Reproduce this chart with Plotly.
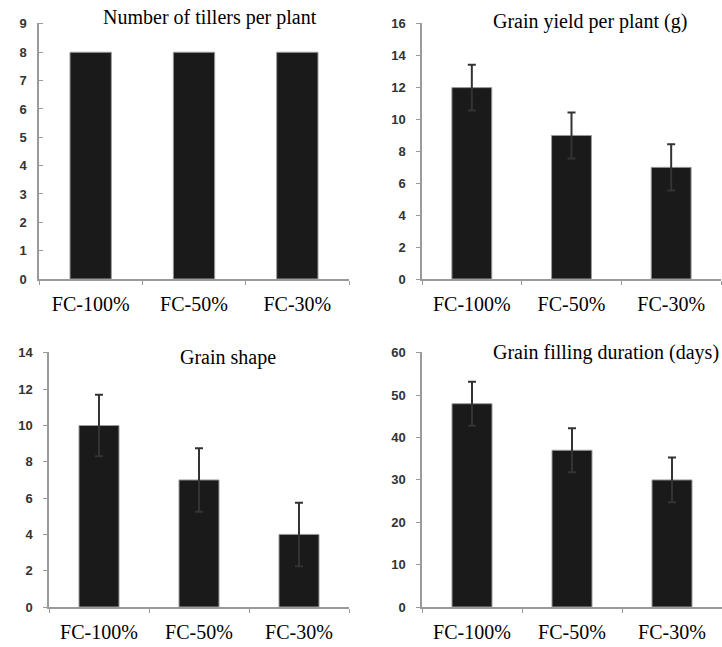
import plotly.graph_objects as go

W, H = 722, 647

categories = ["FC-100%", "FC-50%", "FC-30%"]

tillers = [8, 8, 8]
yield_vals = [12, 9, 7]
yield_err = [1.44, 1.44, 1.45]
shape_vals = [10, 7, 4]
shape_err = [1.7, 1.75, 1.75]
filling_vals = [48, 37, 30]
filling_err = [5.2, 5.2, 5.3]

titles = ["Number of tillers per plant", "Grain yield per plant (g)",
          "Grain shape", "Grain filling duration (days)"]

BAR = "#1a1a1a"
ERR = "#333333"

fig = go.Figure()

def add_bar(vals, err, n):
    kw = dict(x=categories, y=vals, marker=dict(color=BAR, line=dict(color="#9a9a9a", width=1)),
              xaxis=f"x{n if n > 1 else ''}", yaxis=f"y{n if n > 1 else ''}", showlegend=False)
    if err is not None:
        kw["error_y"] = dict(type="data", array=err, visible=True, color=ERR, thickness=2, width=4)
    fig.add_trace(go.Bar(**kw))

add_bar(tillers, None, 1)
add_bar(yield_vals, yield_err, 2)
add_bar(shape_vals, shape_err, 3)
add_bar(filling_vals, filling_err, 4)

def px_x(p):
    return p / W

def px_y(p):
    return 1 - p / H

# panel pixel boxes: (x0, x1, y_bottom, y_top), y range
panels = [
    (39, 349, 279, 22.5, [0, 9.05], 1, "inside"),
    (422, 721, 279, 23, [0, 16.05], 2, "outside"),
    (49, 349, 607, 352, [0, 14.05], 2, "outside"),
    (422, 722, 607, 352, [0, 60.2], 10, "outside"),
]

layout = dict(width=W, height=H, margin=dict(l=0, r=0, t=0, b=0, autoexpand=False),
              paper_bgcolor="white", plot_bgcolor="white", bargap=0.6,
              font=dict(family="Liberation Serif", color="black"))

for i, (x0, x1, yb, yt, yr, dt, tickdir) in enumerate(panels):
    s = "" if i == 0 else str(i + 1)
    layout["xaxis" + s] = dict(
        domain=[px_x(x0), px_x(x1)], anchor="y" + s, type="category",
        showline=True, linecolor="#9a9a9a", linewidth=1.5, automargin=False,
        ticks="outside", tickson="boundaries", ticklen=4, tickcolor="#9a9a9a",
        tickfont=dict(family="Liberation Serif", size=20, color="black"),
        ticklabelstandoff=6, showgrid=False, zeroline=False, fixedrange=True)
    layout["yaxis" + s] = dict(
        domain=[px_y(yb), px_y(yt)], anchor="x" + s, range=yr, dtick=dt,
        showline=True, linecolor="#9a9a9a", linewidth=1.5, automargin=False,
        ticks=tickdir, ticklen=4, tickcolor="#9a9a9a",
        tickfont=dict(family="Liberation Sans", size=13, color="#333333", weight="bold"),
        ticklabelstandoff=8, showgrid=False, zeroline=False, fixedrange=True)

fig.update_layout(**layout)

title_pos = [(210, 18, "center"), (590, 22, "center"), (228, 357, "center"), (721, 352, "right")]
for t, (x, y, anc) in zip(titles, title_pos):
    fig.add_annotation(text=t, x=px_x(x), y=px_y(y), xref="paper", yref="paper",
                       xanchor=anc, yanchor="middle", showarrow=False,
                       font=dict(family="Liberation Serif", size=20, color="black"))

fig.write_html("out.html", config={"displayModeBar": False},
               post_script="document.body.style.margin='0';document.body.style.overflow='hidden';")
